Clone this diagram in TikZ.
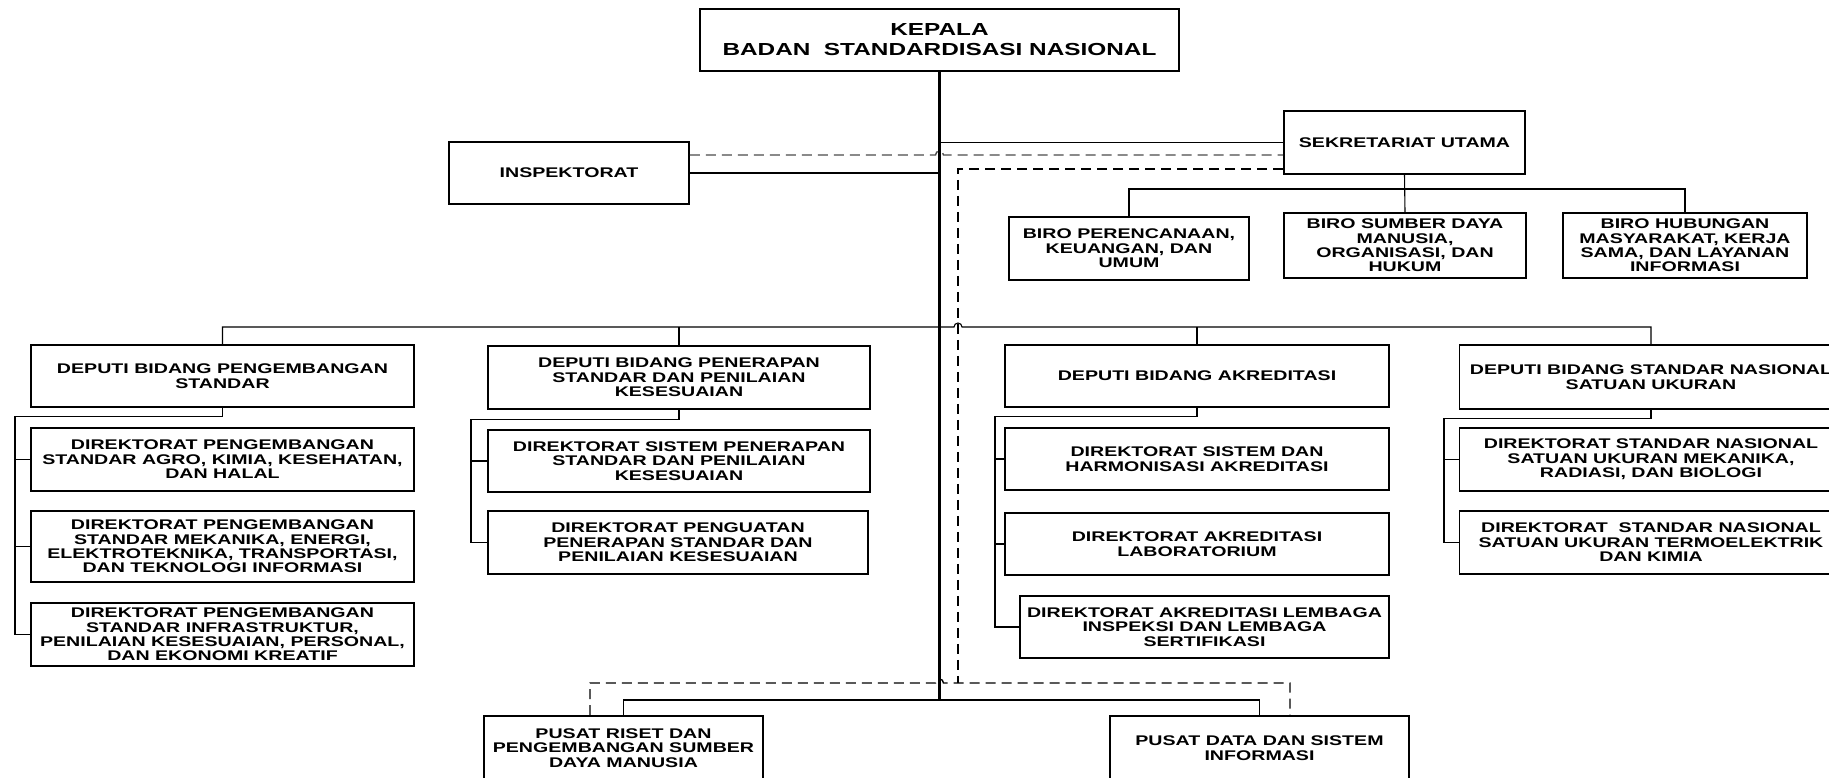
\documentclass[tikz,border=0pt]{standalone}
\usepackage{fontspec}
\newfontfamily\orgfont{Liberation Sans}[FakeStretch=1.4]
\usepackage{tikz}

\begin{document}
\begin{tikzpicture}[x=1pt, y=-1pt,
	box/.style={draw, line width=1.6pt, align=center, inner sep=0pt,
		font=\orgfont\bfseries\fontsize{14}{14.4}\selectfont},
	conn/.style={line width=1.1pt},
	trunk/.style={line width=2.4pt},
	link/.style={line width=1.4pt, dash pattern=on 10pt off 6pt}]
	\useasboundingbox (0,0) rectangle (1829,777);
	% pimpinan
	\node[box, minimum width=479, minimum height=62,
		font=\orgfont\bfseries\fontsize{17.4}{20}\selectfont] (kepala) at (939.5,40) {KEPALA\\BADAN~ STANDARDISASI NASIONAL};
	\node[box, minimum width=240, minimum height=62] (insp) at (569,173) {INSPEKTORAT};
	\node[box, minimum width=241, minimum height=63] (sek) at (1404.5,142.5) {SEKRETARIAT UTAMA};
	% biro
	\node[box, minimum width=240, minimum height=63] (biro1) at (1129,248.5) {BIRO PERENCANAAN,\\KEUANGAN, DAN\\UMUM};
	\node[box, minimum width=242, minimum height=65] (biro2) at (1405,245.5) {BIRO SUMBER DAYA\\MANUSIA,\\ORGANISASI, DAN\\HUKUM};
	\node[box, minimum width=244, minimum height=65] (biro3) at (1685,245.5) {BIRO HUBUNGAN\\MASYARAKAT, KERJA\\SAMA, DAN LAYANAN\\INFORMASI};
	% deputi
	\node[box, minimum width=383, minimum height=62] (dep1) at (222.5,376) {DEPUTI BIDANG PENGEMBANGAN\\STANDAR};
	\node[box, minimum width=382, minimum height=63] (dep2) at (679,377.5) {DEPUTI BIDANG PENERAPAN\\STANDAR DAN PENILAIAN\\KESESUAIAN};
	\node[box, minimum width=384, minimum height=62] (dep3) at (1197,376) {DEPUTI BIDANG AKREDITASI};
	\node[box, minimum width=383, minimum height=64] (dep4) at (1651,377) {DEPUTI BIDANG STANDAR NASIONAL\\SATUAN UKURAN};
	% direktorat
	\node[box, minimum width=383, minimum height=63] (dir11) at (222.5,459.5) {DIREKTORAT PENGEMBANGAN\\STANDAR AGRO, KIMIA, KESEHATAN,\\DAN HALAL};
	\node[box, minimum width=383, minimum height=71] (dir12) at (222.5,546.5) {DIREKTORAT PENGEMBANGAN\\STANDAR MEKANIKA, ENERGI,\\ELEKTROTEKNIKA, TRANSPORTASI,\\DAN TEKNOLOGI INFORMASI};
	\node[box, minimum width=383, minimum height=63] (dir13) at (222.5,634.5) {DIREKTORAT PENGEMBANGAN\\STANDAR INFRASTRUKTUR,\\PENILAIAN KESESUAIAN, PERSONAL,\\DAN EKONOMI KREATIF};
	\node[box, minimum width=382, minimum height=62] (dir21) at (679,461) {DIREKTORAT SISTEM PENERAPAN\\STANDAR DAN PENILAIAN\\KESESUAIAN};
	\node[box, minimum width=380, minimum height=63] (dir22) at (678,542.5) {DIREKTORAT PENGUATAN\\PENERAPAN STANDAR DAN\\PENILAIAN KESESUAIAN};
	\node[box, minimum width=384, minimum height=62] (dir31) at (1197,459) {DIREKTORAT SISTEM DAN\\HARMONISASI AKREDITASI};
	\node[box, minimum width=384, minimum height=62] (dir32) at (1197,544) {DIREKTORAT AKREDITASI\\LABORATORIUM};
	\node[box, minimum width=369, minimum height=62] (dir33) at (1204.5,627) {DIREKTORAT AKREDITASI LEMBAGA\\INSPEKSI DAN LEMBAGA\\SERTIFIKASI};
	\node[box, minimum width=383, minimum height=63] (dir41) at (1651,459.5) {DIREKTORAT STANDAR NASIONAL\\SATUAN UKURAN MEKANIKA,\\RADIASI, DAN BIOLOGI};
	\node[box, minimum width=383, minimum height=63] (dir42) at (1651,542.5) {DIREKTORAT~ STANDAR NASIONAL\\SATUAN UKURAN TERMOELEKTRIK\\DAN KIMIA};
	% pusat
	\node[box, minimum width=279, minimum height=64] (pusat1) at (623.5,748) {PUSAT RISET DAN\\PENGEMBANGAN SUMBER\\DAYA MANUSIA};
	\node[box, minimum width=299, minimum height=64] (pusat2) at (1259.5,748) {PUSAT DATA DAN SISTEM\\INFORMASI};

	% garis bantu
	\coordinate (bot) at (940,700);
	\coordinate (bus) at (0,327);
	\coordinate (sb) at (0,189);
	\coordinate (dA) at (0,155);
	\coordinate (dB) at (958,169);
	\coordinate (dL) at (590,683);
	\coordinate (dR) at (1290,683);
	\coordinate (k1) at (15,0);
	\coordinate (k2) at (471,0);
	\coordinate (k3) at (995,0);
	\coordinate (k4) at (1444,0);

	\draw[trunk] (kepala.south) -- (kepala.south |- bot);
	\draw[conn] (insp.east) -- (insp.east -| kepala.south);
	\draw[conn] (kepala.south |- sek.west) -- (sek.west);
	\draw[link, gray!60!black] (insp.east |- dA) -- ([xshift=-4pt]kepala.south |- dA) arc[start angle=180, end angle=360, radius=4] -- (sek.west |- dA);
	\draw[link] (sek.west |- dB) -- (dB) -- (dB |- dL);
	\draw[link] (dL |- pusat1.north) -- (dL) -- ([xshift=-4pt]kepala.south |- dL) arc[start angle=180, end angle=360, radius=4] -- (dR) -- (dR |- pusat2.north);

	% sekretariat utama
	\draw[conn] (sek.south) -- (biro2.north);
	\draw[conn] (biro1.north) -- (biro1.north |- sb) -- (biro3.north |- sb) -- (biro3.north);

	% deputi
	\draw[conn] (dep1.north) -- (dep1.north |- bus) -- ([xshift=-4pt]dB |- bus) arc[start angle=180, end angle=360, radius=4] -- (dep4.north |- bus) -- (dep4.north);
	\foreach \d in {dep2, dep3}
	\draw[conn] (\d.north) -- (\d.north |- bus);

	% direktorat
	\draw[conn] (dep1.south) -- ++(0,9) -| (dir13.west -| k1) -- (dir13.west);
	\foreach \d in {dir11, dir12}
	\draw[conn] (\d.west -| k1) -- (\d.west);
	\draw[conn] (dep2.south) -- ++(0,10) -| (dir22.west -| k2) -- (dir22.west);
	\draw[conn] (dir21.west -| k2) -- (dir21.west);
	\draw[conn] (dep3.south) -- ++(0,9) -| (dir33.west -| k3) -- (dir33.west);
	\foreach \d in {dir31, dir32}
	\draw[conn] (\d.west -| k3) -- (\d.west);
	\draw[conn] (dep4.south) -- ++(0,9) -| (dir42.west -| k4) -- (dir42.west);
	\draw[conn] (dir41.west -| k4) -- (dir41.west);

	% pusat
	\draw[conn] (pusat1.north) -- (pusat1.north |- bot) -- (pusat2.north |- bot) -- (pusat2.north);
\end{tikzpicture}
\end{document}
